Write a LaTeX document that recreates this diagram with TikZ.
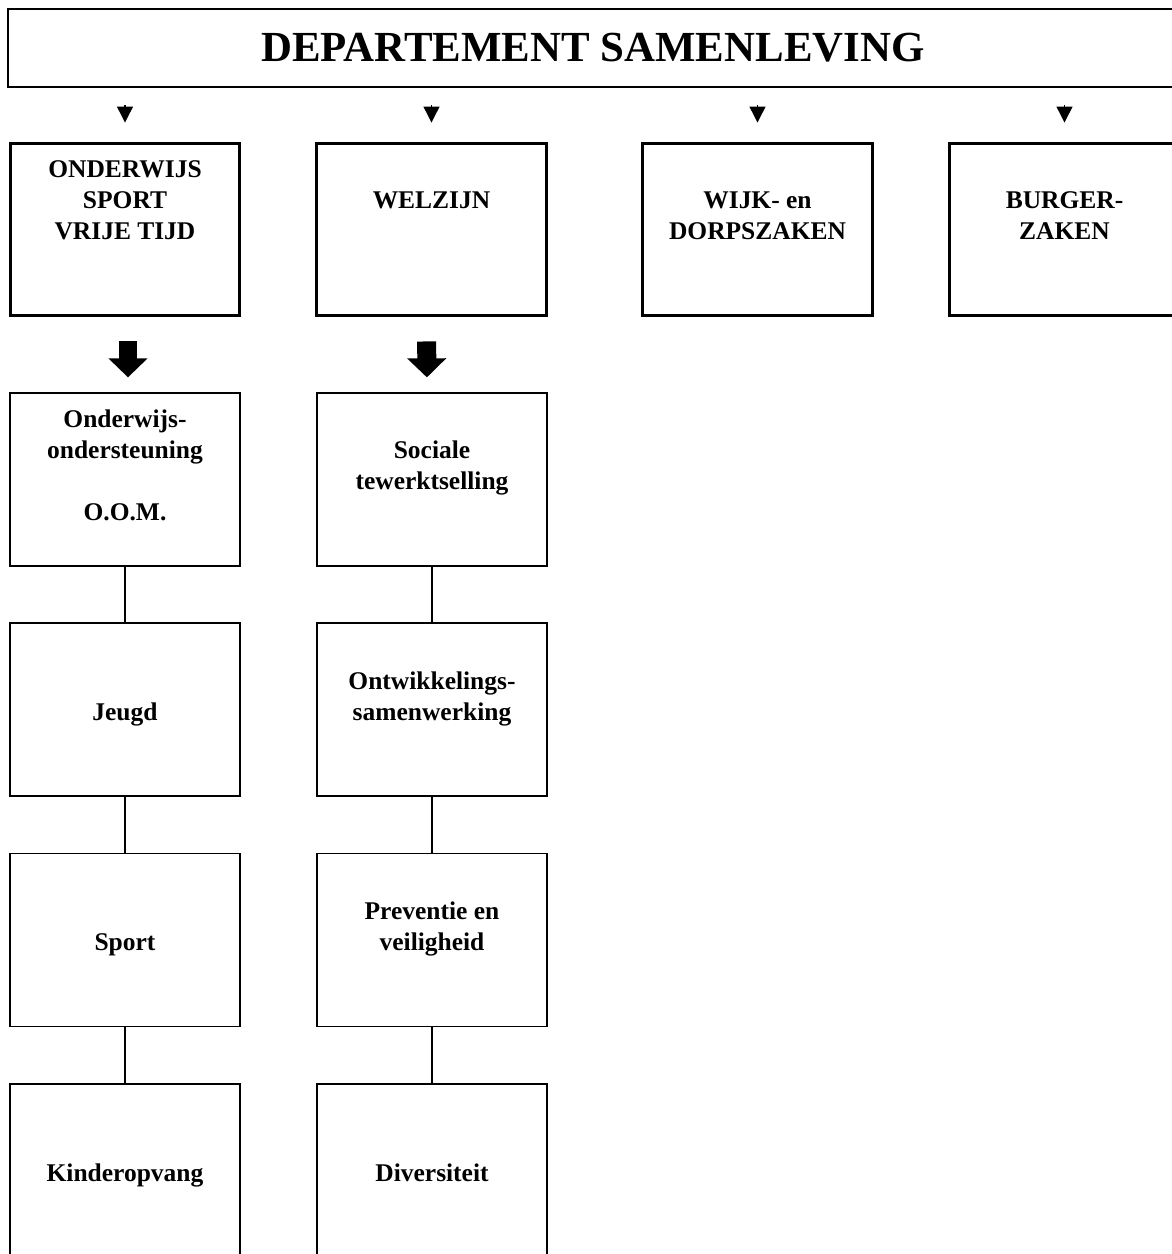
\documentclass[tikz,border=0pt]{standalone}
\usepackage{fontspec}
\setmainfont{Liberation Serif}
\usetikzlibrary{arrows.meta}
\tikzset{
  hoofd/.style={draw, line width=1.7pt, minimum width=4.6cm, minimum height=3.46cm, inner sep=0pt},
  dienst/.style={draw, line width=0.75pt, minimum width=4.6cm, minimum height=3.46cm, inner sep=0pt},
  lbl/.style={font=\bfseries\fontsize{14.5}{17.6}\selectfont, align=center, anchor=base, inner sep=0pt},
  pijl/.style={line width=0.75pt, -{Triangle[width=0.32cm,length=0.32cm]}, shorten <=0.34cm, shorten >=0.38cm},
  blokpijl/.style={line width=0.38cm, -{Triangle[width=0.76cm,length=0.38cm]}, shorten <=0.48cm, shorten >=0.3cm}
}
\begin{document}
\begin{tikzpicture}[x=0.02cm, y=-0.02cm]
  \useasboundingbox (0,0) rectangle (1172,1254);
  \node[draw, line width=1.1pt, minimum width=23.4cm, minimum height=1.56cm,
    font=\bfseries\fontsize{24.4}{29}\selectfont] (dep) at (593,48) {DEPARTEMENT SAMENLEVING};
  \node[hoofd] (ows) at (125,229.5) {};
  \node[hoofd] (wel) at (431.5,229.5) {};
  \node[hoofd] (wdz) at (757.5,229.5) {};
  \node[hoofd] (bz) at (1064.5,229.5) {};
  \node[dienst] (o1) at (125,479.5) {};
  \node[dienst] (o2) at (125,709.5) {};
  \node[dienst] (o3) at (125,940) {};
  \node[dienst] (o4) at (125,1170.5) {};
  \node[dienst] (w1) at (432,479.5) {};
  \node[dienst] (w2) at (432,709.5) {};
  \node[dienst] (w3) at (432,940) {};
  \node[dienst] (w4) at (432,1170.5) {};
  % teksten (base = laatste regel)
  \node[lbl] (tows) at ([yshift=-1.96cm]ows.north) {ONDERWIJS\\SPORT\\VRIJE TIJD};
  \node[lbl] (twel) at ([yshift=-1.34cm]wel.north) {WELZIJN};
  \node[lbl] (twdz) at ([yshift=-1.96cm]wdz.north) {WIJK- en\\DORPSZAKEN};
  \node[lbl] (tbz) at ([yshift=-1.96cm]bz.north) {BURGER-\\ZAKEN};
  \node[lbl] (to1) at ([yshift=-2.56cm]o1.north) {Onderwijs-\\ondersteuning\\[17.6pt]O.O.M.};
  \node[lbl] (to2) at ([yshift=-1.96cm]o2.north) {Jeugd};
  \node[lbl] (to3) at ([yshift=-1.96cm]o3.north) {Sport};
  \node[lbl] (to4) at ([yshift=-1.96cm]o4.north) {Kinderopvang};
  \node[lbl] (tw1) at ([yshift=-1.94cm]w1.north) {Sociale\\tewerktselling};
  \node[lbl] (tw2) at ([yshift=-1.96cm]w2.north) {Ontwikkelings-\\samenwerking};
  \node[lbl] (tw3) at ([yshift=-1.96cm]w3.north) {Preventie en\\veiligheid};
  \node[lbl] (tw4) at ([yshift=-1.96cm]w4.north) {Diversiteit};
  \foreach \b in {ows,wel,wdz,bz}
    \draw[pijl] (dep.south -| \b.north) -- (\b.north);
  \draw[blokpijl] ([xshift=0.06cm]ows.south) -- ([xshift=0.06cm]o1.north);
  \draw[blokpijl] ([xshift=-0.1cm]wel.south) -- ([xshift=-0.1cm]w1.north);
  \begin{scope}[line width=0.75pt]
    \draw (o1) -- (o2);
    \draw (o2) -- (o3);
    \draw (o3) -- (o4);
    \draw (w1) -- (w2);
    \draw (w2) -- (w3);
    \draw (w3) -- (w4);
  \end{scope}
\end{tikzpicture}
\end{document}
